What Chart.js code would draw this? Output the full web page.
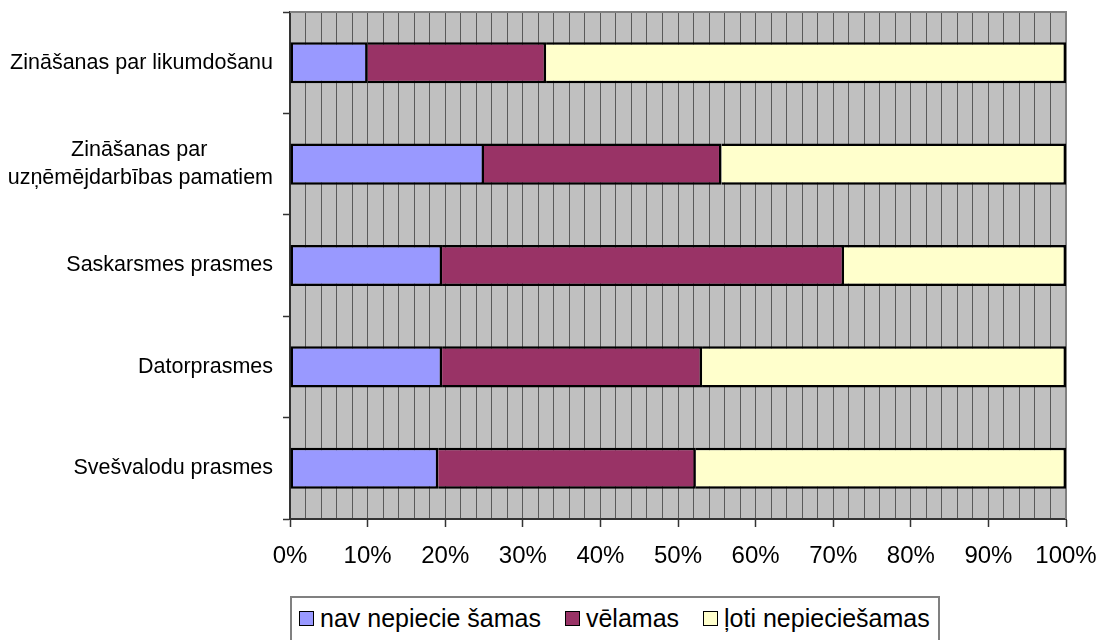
<!DOCTYPE html>
<html>
<head>
<meta charset="utf-8">
<script src="https://cdn.jsdelivr.net/npm/chart.js@4/dist/chart.umd.min.js"></script>
<style>
  html, body { margin: 0; padding: 0; background: #fff; overflow: hidden; }
  #wrap { position: relative; width: 1100px; height: 640px; }
  #legend {
    position: absolute; left: 290px; top: 596px;
    border: 2px solid #808080; background: #fff;
    padding: 6px 8px 30px 7px;
    display: flex; align-items: center;
    font-family: "Liberation Sans", Arial, sans-serif; font-size: 25px; color: #000;
    white-space: nowrap;
  }
  #legend .item { display: flex; align-items: center; margin-right: 24px; }
  #legend .item:last-child { margin-right: 0; }
  #legend .sw { width: 13px; height: 13px; border: 1.5px solid #000; margin-right: 6px; }
</style>
</head>
<body>
<div id="wrap">
  <canvas id="c" width="1100" height="640"></canvas>
  <div id="legend"></div>
</div>
<script>
// Skills, top to bottom
const categories = [
  'Zināšanas par likumdošanu',
  ['Zināšanas par           ', 'uzņēmējdarbības pamatiem'],
  'Saskarsmes prasmes',
  'Datorprasmes',
  'Svešvalodu prasmes'
];

// Share of respondents, %
const navNepieciesamas = [10.0, 25.0, 19.6, 19.6, 19.1];
const velamas          = [23.0, 30.6, 51.8, 33.5, 33.2];
const lotiNepieciesamas = [67.0, 44.4, 28.6, 46.9, 47.7];

const seriesNames = ['nav nepiecie šamas', 'vēlamas', 'ļoti nepieciešamas'];
const seriesColors = ['#9999FF', '#993366', '#FFFFCC'];

const xTickValues = [0, 10, 20, 30, 40, 50, 60, 70, 80, 90, 100];

const FONT = '"Liberation Sans", Arial, sans-serif';

// Gray plot background plus the thin frame along the top and right edges
const plotFrame = {
  id: 'plotFrame',
  beforeDraw(chart) {
    const { ctx, chartArea: a } = chart;
    ctx.save();
    ctx.fillStyle = '#C0C0C0';
    ctx.fillRect(a.left, a.top, a.right - a.left, a.bottom - a.top);
    ctx.restore();
  },
  beforeDatasetsDraw(chart) {
    const { ctx, chartArea: a } = chart;
    ctx.save();
    ctx.strokeStyle = '#808080';
    ctx.lineWidth = 2;
    ctx.beginPath();
    ctx.moveTo(a.left, a.top);
    ctx.lineTo(a.right, a.top);
    ctx.lineTo(a.right, a.bottom);
    ctx.stroke();
    ctx.restore();
  }
};

const seriesData = [navNepieciesamas, velamas, lotiNepieciesamas];

const chart = new Chart(document.getElementById('c'), {
  type: 'bar',
  data: {
    labels: categories,
    datasets: seriesData.map((d, i) => ({
      label: seriesNames[i],
      data: d,
      backgroundColor: seriesColors[i],
      borderColor: '#000',
      borderWidth: 2.5,
      borderSkipped: i === 0 ? false : 'left',
      categoryPercentage: 1,
      barPercentage: 0.405
    }))
  },
  options: {
    indexAxis: 'y',
    responsive: false,
    animation: false,
    devicePixelRatio: 1,
    layout: { padding: { top: 12, right: 34, left: 0, bottom: 0 } },
    plugins: {
      legend: { display: false },
      tooltip: { enabled: false }
    },
    scales: {
      x: {
        stacked: true,
        min: 0,
        max: 100,
        afterFit(scale) {
          scale.height = 121;
          scale.paddingLeft = 0;
          scale.paddingRight = 0;
        },
        afterBuildTicks(scale) {
          const t = [];
          for (let v = 0; v <= 100; v += 2) t.push({ value: v });
          scale.ticks = t;
        },
        ticks: {
          autoSkip: false,
          maxRotation: 0,
          padding: 15,
          color: '#000',
          font: { family: FONT, size: 24 },
          callback: (v) => xTickValues.includes(v) ? v + '%' : ''
        },
        grid: {
          color: '#5a5a5a',
          lineWidth: 1,
          tickLength: 8,
          tickColor: (c) => (c.tick && xTickValues.includes(c.tick.value)) ? '#333' : 'rgba(0,0,0,0)',
          tickWidth: 1.5
        },
        border: { color: '#333', width: 2 }
      },
      y: {
        stacked: true,
        afterFit(scale) {
          scale.width = 290;
          scale.paddingTop = 0;
          scale.paddingBottom = 0;
        },
        ticks: {
          padding: 10,
          color: '#000',
          font: { family: FONT, size: 21.5, lineHeight: 1.3 }
        },
        grid: {
          offset: true,
          drawOnChartArea: false,
          tickLength: 7,
          tickColor: '#333',
          tickWidth: 1.5
        },
        border: { color: '#333', width: 2 }
      }
    }
  },
  plugins: [plotFrame]
});

// Legend built from the chart's own datasets
const legendEl = document.getElementById('legend');
chart.data.datasets.forEach((ds) => {
  const item = document.createElement('div');
  item.className = 'item';
  const sw = document.createElement('span');
  sw.className = 'sw';
  sw.style.background = ds.backgroundColor;
  const txt = document.createElement('span');
  txt.textContent = ds.label;
  item.appendChild(sw);
  item.appendChild(txt);
  legendEl.appendChild(item);
});
</script>
</body>
</html>
